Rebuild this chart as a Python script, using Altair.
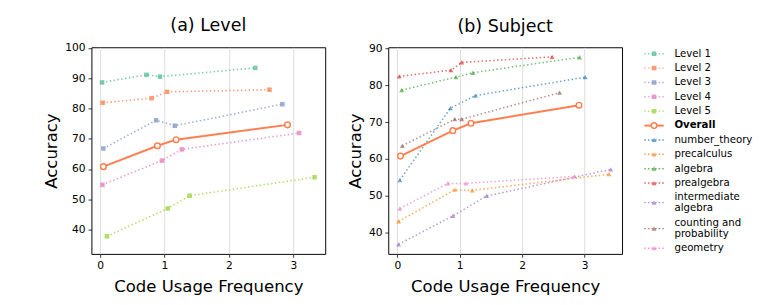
import altair as alt
import pandas as pd

# ---------------- data ----------------
overall_x = [0.05, 0.89, 1.18, 2.91]
overall_y = [60.8, 67.7, 69.7, 74.6]

level_names = ["Level 1", "Level 2", "Level 3", "Level 4", "Level 5"]
level_x = [
    [0.03, 0.72, 0.93, 2.41],
    [0.04, 0.80, 1.04, 2.63],
    [0.05, 0.87, 1.16, 2.83],
    [0.035, 0.96, 1.27, 3.09],
    [0.105, 1.05, 1.39, 3.33],
]
level_y = [
    [88.6, 91.1, 90.5, 93.4],
    [81.9, 83.4, 85.5, 86.2],
    [66.8, 76.1, 74.3, 81.4],
    [54.8, 62.8, 66.5, 71.9],
    [37.8, 47.0, 51.2, 57.3],
]
level_colors = ["#66c2a5", "#fc8d62", "#8da0cb", "#e78ac3", "#a6d854"]

subject_names = ["number_theory", "precalculus", "algebra", "prealgebra",
                 "intermediate algebra", "counting and probability", "geometry"]
subject_x = [
    [0.04, 0.85, 1.25, 3.01],
    [0.02, 0.92, 1.20, 3.39],
    [0.07, 0.94, 1.21, 2.92],
    [0.03, 0.86, 1.03, 2.48],
    [0.02, 0.89, 1.43, 3.42],
    [0.08, 0.92, 1.03, 2.60],
    [0.04, 0.81, 1.10, 2.84],
]
subject_y = [
    [54.3, 73.8, 77.2, 82.2],
    [43.1, 51.7, 51.5, 55.9],
    [78.7, 82.2, 83.4, 87.6],
    [82.4, 84.1, 86.2, 87.7],
    [36.9, 44.6, 50.0, 57.2],
    [63.6, 70.8, 70.8, 78.0],
    [46.6, 53.4, 53.4, 55.3],
]
subject_colors = ["#1f77b4", "#ff7f0e", "#2ca02c", "#d62728",
                  "#9467bd", "#8c564b", "#e377c2"]

overall_color = "#ff7f50"

legend_labels = level_names + ["Overall"] + [
    "number_theory", "precalculus", "algebra", "prealgebra",
    "intermediate\nalgebra", "counting and\nprobability", "geometry"]
legend_series = level_names + ["Overall"] + subject_names
legend_kind = ["level"] * 5 + ["overall"] + ["subject"] * 7
legend_lines = [1] * 10 + [2, 2, 1]
legend_rows = [0, 1, 2, 3, 4, 5, 6, 7, 8, 9, 10.36, 12.17, 13.53]

x_ticks = [0, 1, 2, 3]
level_yticks = [40, 50, 60, 70, 80, 90, 100]
subject_yticks = [40, 50, 60, 70, 80, 90]

# ---------------- tables ----------------
def series_df(names, xs, ys):
    rows = []
    for n, xx, yy in zip(names, xs, ys):
        for i, (a, b) in enumerate(zip(xx, yy)):
            rows.append({"series": n, "x": a, "y": b, "idx": i})
    return pd.DataFrame(rows)

level_df = series_df(level_names, level_x, level_y)
subject_df = series_df(subject_names, subject_x, subject_y)
overall_df = series_df(["Overall"], [overall_x], [overall_y])
legend_df = pd.DataFrame({"label": legend_labels, "series": legend_series,
                          "kind": legend_kind, "row": legend_rows,
                          "nlines": legend_lines})

color_scale = alt.Scale(domain=level_names + ["Overall"] + subject_names,
                        range=level_colors + [overall_color] + subject_colors)

FONT = "DejaVu Sans"


def panel(df, shape, title, xdom, ydom, yvals, opacity, msize):
    x = alt.X("x:Q", scale=alt.Scale(domain=xdom, nice=False, zero=False),
              axis=alt.Axis(values=x_ticks, format="d", title="Code Usage Frequency",
                            titlePadding=8))
    y = alt.Y("y:Q", scale=alt.Scale(domain=ydom, nice=False, zero=False),
              axis=alt.Axis(values=yvals, title="Accuracy", grid=False, titlePadding=4))
    color = alt.Color("series:N", scale=color_scale, legend=None)
    base = alt.Chart(df)
    lines = base.mark_line(strokeDash=[1.5, 2.5], strokeWidth=1.6, opacity=opacity).encode(
        x=x, y=y, color=color, detail="series:N", order="idx:Q")
    pts = base.mark_point(shape=shape, filled=True, size=msize, opacity=opacity).encode(
        x=x, y=y, color=color)
    ov = alt.Chart(overall_df)
    ovline = ov.mark_line(color=overall_color, strokeWidth=2).encode(x=x, y=y, order="idx:Q")
    ovpts = ov.mark_point(shape="circle", filled=True, fill="white", stroke=overall_color,
                          strokeWidth=1.5, size=34, opacity=1).encode(x=x, y=y)
    return alt.layer(lines, pts, ovline, ovpts).properties(
        width=241, height=213,
        title=alt.TitleParams(title, fontSize=18, font=FONT, fontWeight="normal", offset=7))


left = panel(level_df, "square", "(a) Level", [-0.135, 3.495], [32, 100.2],
             level_yticks, 0.85, 22)
right = panel(subject_df, "triangle-up", "(b) Subject", [-0.145, 3.6], [34.3, 90.3],
              subject_yticks, 0.65, 26)

# ---------------- custom legend ----------------
ly = alt.Y("row:Q", scale=alt.Scale(domain=[-0.45, 13.93], reverse=True, nice=False, zero=False),
           axis=None)
lcolor = alt.Color("series:N", scale=color_scale, legend=None)
lb = alt.Chart(legend_df)
dotted_rule = lb.transform_filter("datum.kind != 'overall'").mark_rule(
    strokeDash=[1.5, 2.2], strokeWidth=1.5, opacity=0.75).encode(
    x=alt.value(0), x2=alt.value(20), y=ly, color=lcolor)
solid_rule = lb.transform_filter("datum.kind == 'overall'").mark_rule(
    strokeWidth=2).encode(x=alt.value(0), x2=alt.value(20), y=ly, color=lcolor)
sq = lb.transform_filter("datum.kind == 'level'").mark_point(
    shape="square", filled=True, size=22, opacity=0.85).encode(x=alt.value(10), y=ly, color=lcolor)
tri = lb.transform_filter("datum.kind == 'subject'").mark_point(
    shape="triangle-up", filled=True, size=26, opacity=0.65).encode(x=alt.value(10), y=ly, color=lcolor)
circ = lb.transform_filter("datum.kind == 'overall'").mark_point(
    shape="circle", filled=True, fill="white", stroke=overall_color, strokeWidth=1.5, size=34,
    opacity=1).encode(x=alt.value(10), y=ly)
txt1 = lb.transform_filter("datum.kind != 'overall' && datum.nlines == 1").mark_text(
    align="left", baseline="middle", fontSize=10.5, font=FONT,
    color="black").encode(x=alt.value(31), y=ly, text="label:N")
txt2 = lb.transform_filter("datum.nlines == 2").mark_text(
    align="left", baseline="middle", fontSize=10.5, font=FONT, lineBreak="\n", lineHeight=12,
    dy=-6, color="black").encode(x=alt.value(31), y=ly, text="label:N")
txt_b = lb.transform_filter("datum.kind == 'overall'").mark_text(
    align="left", baseline="middle", fontSize=10.5, font=FONT, fontWeight="bold",
    color="black").encode(x=alt.value(31), y=ly, text="label:N")
legend = alt.layer(dotted_rule, solid_rule, sq, tri, circ, txt1, txt2, txt_b).properties(
    width=112, height=213, view=alt.ViewBackground(stroke=None))

chart = alt.hconcat(left, right, legend, spacing=21).properties(
    padding={"left": 36, "top": 5, "right": 0, "bottom": 0}
).configure_view(stroke="black", strokeWidth=1).configure_axis(
    labelFont=FONT, labelFontSize=11, labelColor="black",
    titleFont=FONT, titleFontSize=17, titleFontWeight="normal", titleColor="black",
    domain=False, tickColor="black", tickSize=3.5, tickWidth=0.8,
    gridColor="#dddddd", gridWidth=1, labelPadding=3
).configure_concat(spacing=21)

chart.save("out.html", embed_options={"renderer": "svg", "actions": False})
